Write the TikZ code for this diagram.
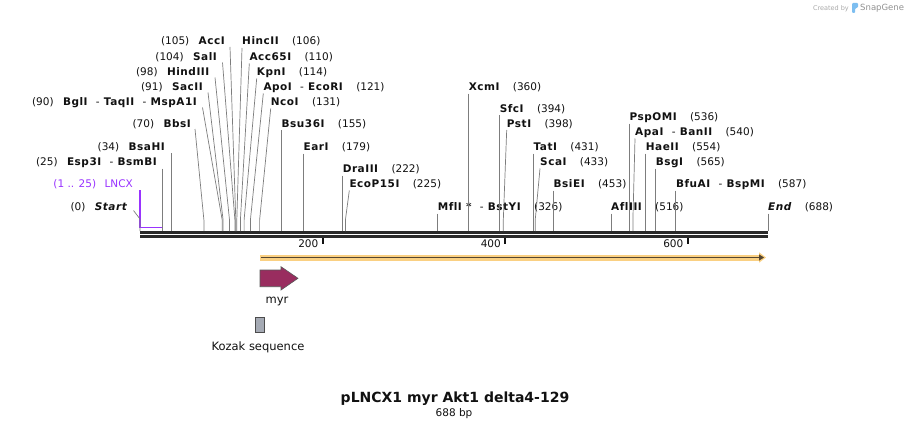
\documentclass[tikz,border=0pt]{standalone}
\usepackage{fontspec}
\setmainfont{DejaVu Sans}
\newfontfamily\enzfont[LetterSpace=5,Ligatures=NoCommon]{DejaVu Sans}
\usetikzlibrary{arrows.meta,positioning}
\definecolor{inkBlack}{RGB}{17, 17, 17}
\definecolor{leaderGray}{RGB}{125, 125, 125}
\definecolor{lncxPurple}{RGB}{153, 51, 255}
\definecolor{myrWine}{RGB}{153, 45, 95}
\definecolor{kozakGray}{RGB}{165, 170, 180}
\definecolor{bandOrange}{RGB}{250, 208, 130}
\definecolor{bandBrown}{RGB}{85, 70, 50}
\definecolor{snapGray}{RGB}{170, 170, 170}
\definecolor{snapBlue}{RGB}{125, 190, 240}
\newcommand{\cutsep}{\ \ {\mdseries-}\ }

\begin{document}
\begin{tikzpicture}[x=1pt, y=-1pt,
    enzname/.style={font=\enzfont\fontsize{10.5}{12}\selectfont\bfseries, text=inkBlack, inner sep=0pt},
    enzpos/.style={font=\fontsize{10.5}{12}\selectfont, text=inkBlack, inner sep=0pt},
    leader/.style={draw=leaderGray, line width=0.7pt},
    backbone/.style={draw=inkBlack!90, line width=3pt},
    tickmark/.style={draw=inkBlack, line width=2pt},
    featlabel/.style={font=\fontsize{11.5}{13}\selectfont, text=inkBlack, inner sep=0pt}]
\fill[white] (0,0) rectangle (909,428);
\useasboundingbox (0,0) rectangle (909,428);

% sequence backbone
\coordinate (bbStart) at (140,232.5);
\coordinate (bbEnd) at (768,232.5);
\draw[backbone] (bbStart) -- (bbEnd);
\draw[backbone] ([yshift=-4pt]bbStart) -- ([yshift=-4pt]bbEnd);

% scale ticks
\coordinate (t200) at (322.6,238);
\coordinate (t400) at (505.1,238);
\coordinate (t600) at (687.7,238);
\draw[tickmark] (t200) -- ++(0,6);
\draw[tickmark] (t400) -- ++(0,6);
\draw[tickmark] (t600) -- ++(0,6);
\node[enzpos, anchor=base east] (l200) at (318.5,247.5) {200};
\node[enzpos, anchor=base east] (l400) at (501,247.5) {400};
\node[enzpos, anchor=base east] (l600) at (683.5,247.5) {600};

% left hand sites
\node[enzname, anchor=base east] (nAccI) at (225,45) {AccI};
\node[enzpos, left=9pt of nAccI.base west, anchor=base east] (pAccI) {(105)};
\coordinate (sAccI) at (235.8,231);
\draw[leader] ([shift={(5pt,-2pt)}]nAccI.base east) -- ([yshift=11pt]sAccI) -- (sAccI);

\node[enzname, anchor=base east] (nSalI) at (217,60.5) {SalI};
\node[enzpos, left=9pt of nSalI.base west, anchor=base east] (pSalI) {(104)};
\coordinate (sSalI) at (234.9,231);
\draw[leader] ([shift={(5.5pt,-2pt)}]nSalI.base east) -- ([yshift=11pt]sSalI) -- (sSalI);

\node[enzname, anchor=base east] (nHindIII) at (209.5,75.5) {HindIII};
\node[enzpos, left=9pt of nHindIII.base west, anchor=base east] (pHindIII) {(98)};
\coordinate (sHindIII) at (229.5,231);
\draw[leader] ([shift={(5.5pt,-2pt)}]nHindIII.base east) -- ([yshift=11pt]sHindIII) -- (sHindIII);

\node[enzname, anchor=base east] (nSacII) at (203,90.5) {SacII};
\node[enzpos, left=9pt of nSacII.base west, anchor=base east] (pSacII) {(91)};
\coordinate (sSacII) at (223.1,231);
\draw[leader] ([shift={(5pt,-2pt)}]nSacII.base east) -- ([yshift=11pt]sSacII) -- (sSacII);

\node[enzname, anchor=base east] (nMspA1I) at (197,105.5) {BglI\cutsep TaqII\cutsep MspA1I};
\node[enzpos, left=9pt of nMspA1I.base west, anchor=base east] (pMspA1I) {(90)};
\coordinate (sMspA1I) at (222.2,231);
\draw[leader] ([shift={(5.5pt,-2pt)}]nMspA1I.base east) -- ([yshift=11pt]sMspA1I) -- (sMspA1I);

\node[enzname, anchor=base east] (nBbsI) at (191,127) {BbsI};
\node[enzpos, left=9pt of nBbsI.base west, anchor=base east] (pBbsI) {(70)};
\coordinate (sBbsI) at (203.9,231);
\draw[leader] ([shift={(4pt,-2pt)}]nBbsI.base east) -- ([yshift=11pt]sBbsI) -- (sBbsI);

\node[enzname, anchor=base east] (nBsaHI) at (165,150) {BsaHI};
\node[enzpos, left=9pt of nBsaHI.base west, anchor=base east] (pBsaHI) {(34)};
\coordinate (sBsaHI) at (171,231);
\draw[leader] ([shift={(6pt,-3pt)}]nBsaHI.base east) -- (sBsaHI);

\node[enzname, anchor=base east] (nBsmBI) at (157,165.5) {Esp3I\cutsep BsmBI};
\node[enzpos, left=9pt of nBsmBI.base west, anchor=base east] (pBsmBI) {(25)};
\coordinate (sBsmBI) at (162.8,231);
\draw[leader] ([shift={(5.8pt,-3pt)}]nBsmBI.base east) -- (sBsmBI);

% LNCX feature and start
\node[enzpos, text=lncxPurple, anchor=base east] (nLNCX) at (133,187.5) {LNCX};
\node[enzpos, text=lncxPurple, left=8pt of nLNCX.base west, anchor=base east] (pLNCX) {(1 .. 25)};
\coordinate (lncxTop) at (140,190);
\coordinate (lncxEnd) at (162,227.7);
\draw[lncxPurple, line width=1.4pt] (lncxTop) |- (lncxEnd);

\node[enzname, font=\enzfont\fontsize{10.5}{12}\selectfont\bfseries\itshape, anchor=base east] (nStart) at (127,210.5) {Start};
\node[enzpos, left=9pt of nStart.base west, anchor=base east] (pStart) {(0)};
\coordinate (sStart) at (140,231);
\draw[leader] ([shift={(6.5pt,0pt)}]nStart.base east) -- ([yshift=12pt]sStart) -- (sStart);

% right hand sites
\node[enzname, anchor=base west] (nHincII) at (242,45) {HincII};
\node[enzpos, right=13pt of nHincII.base east, anchor=base west] (pHincII) {(106)};
\coordinate (sHincII) at (236.8,231);
\draw[leader] ([yshift=-3pt]nHincII.base west) -- ([yshift=11pt]sHincII) -- (sHincII);

\node[enzname, anchor=base west] (nAcc65I) at (249.3,60.5) {Acc65I};
\node[enzpos, right=13pt of nAcc65I.base east, anchor=base west] (pAcc65I) {(110)};
\coordinate (sAcc65I) at (240.4,231);
\draw[leader] ([yshift=-3pt]nAcc65I.base west) -- ([yshift=11pt]sAcc65I) -- (sAcc65I);

\node[enzname, anchor=base west] (nKpnI) at (256.7,75.5) {KpnI};
\node[enzpos, right=13pt of nKpnI.base east, anchor=base west] (pKpnI) {(114)};
\coordinate (sKpnI) at (244.1,231);
\draw[leader] ([yshift=-3pt]nKpnI.base west) -- ([yshift=11pt]sKpnI) -- (sKpnI);

\node[enzname, anchor=base west] (nEcoRI) at (263.3,90.5) {ApoI\cutsep EcoRI};
\node[enzpos, right=13pt of nEcoRI.base east, anchor=base west] (pEcoRI) {(121)};
\coordinate (sEcoRI) at (250.4,231);
\draw[leader] ([yshift=-3pt]nEcoRI.base west) -- ([yshift=11pt]sEcoRI) -- (sEcoRI);

\node[enzname, anchor=base west] (nNcoI) at (270.7,105.5) {NcoI};
\node[enzpos, right=13pt of nNcoI.base east, anchor=base west] (pNcoI) {(131)};
\coordinate (sNcoI) at (259.6,231);
\draw[leader] ([yshift=-3pt]nNcoI.base west) -- ([yshift=11pt]sNcoI) -- (sNcoI);

\node[enzname, anchor=base west] (nBsu36I) at (281.5,127) {Bsu36I};
\node[enzpos, right=13pt of nBsu36I.base east, anchor=base west] (pBsu36I) {(155)};
\coordinate (sBsu36I) at (281.5,231);
\draw[leader] ([yshift=-3pt]nBsu36I.base west) -- (sBsu36I);

\node[enzname, anchor=base west] (nEarI) at (303.4,150.5) {EarI};
\node[enzpos, right=13pt of nEarI.base east, anchor=base west] (pEarI) {(179)};
\coordinate (sEarI) at (303.4,231);
\draw[leader] ([yshift=-3pt]nEarI.base west) -- (sEarI);

\node[enzname, anchor=base west] (nDraIII) at (342.6,172.5) {DraIII};
\node[enzpos, right=13pt of nDraIII.base east, anchor=base west] (pDraIII) {(222)};
\coordinate (sDraIII) at (342.6,231);
\draw[leader] ([yshift=-3pt]nDraIII.base west) -- (sDraIII);

\node[enzname, anchor=base west] (nEcoP15I) at (349.3,187.5) {EcoP15I};
\node[enzpos, right=13pt of nEcoP15I.base east, anchor=base west] (pEcoP15I) {(225)};
\coordinate (sEcoP15I) at (345.4,231);
\draw[leader] ([yshift=-3pt]nEcoP15I.base west) -- ([yshift=11pt]sEcoP15I) -- (sEcoP15I);

\node[enzname, anchor=base west] (nBstYI) at (437.6,210.5) {MflI *\cutsep BstYI};
\node[enzpos, right=13pt of nBstYI.base east, anchor=base west] (pBstYI) {(326)};
\coordinate (sBstYI) at (437.6,231);
\draw[leader] ([yshift=-3pt]nBstYI.base west) -- (sBstYI);

\node[enzname, anchor=base west] (nXcmI) at (468.6,90.5) {XcmI};
\node[enzpos, right=13pt of nXcmI.base east, anchor=base west] (pXcmI) {(360)};
\coordinate (sXcmI) at (468.6,231);
\draw[leader] ([yshift=-3pt]nXcmI.base west) -- (sXcmI);

\node[enzname, anchor=base west] (nSfcI) at (499.6,112) {SfcI};
\node[enzpos, right=13pt of nSfcI.base east, anchor=base west] (pSfcI) {(394)};
\coordinate (sSfcI) at (499.6,231);
\draw[leader] ([yshift=-3pt]nSfcI.base west) -- (sSfcI);

\node[enzname, anchor=base west] (nPstI) at (506.7,127) {PstI};
\node[enzpos, right=13pt of nPstI.base east, anchor=base west] (pPstI) {(398)};
\coordinate (sPstI) at (503.3,231);
\draw[leader] ([yshift=-3pt]nPstI.base west) -- ([yshift=11pt]sPstI) -- (sPstI);

\node[enzname, anchor=base west] (nTatI) at (533.4,150.5) {TatI};
\node[enzpos, right=13pt of nTatI.base east, anchor=base west] (pTatI) {(431)};
\coordinate (sTatI) at (533.4,231);
\draw[leader] ([yshift=-3pt]nTatI.base west) -- (sTatI);

\node[enzname, anchor=base west] (nScaI) at (540,165.5) {ScaI};
\node[enzpos, right=13pt of nScaI.base east, anchor=base west] (pScaI) {(433)};
\coordinate (sScaI) at (535.2,231);
\draw[leader] ([yshift=-3pt]nScaI.base west) -- ([yshift=11pt]sScaI) -- (sScaI);

\node[enzname, anchor=base west] (nBsiEI) at (553.5,187.5) {BsiEI};
\node[enzpos, right=13pt of nBsiEI.base east, anchor=base west] (pBsiEI) {(453)};
\coordinate (sBsiEI) at (553.5,231);
\draw[leader] ([yshift=-3pt]nBsiEI.base west) -- (sBsiEI);

\node[enzname, anchor=base west] (nAflIII) at (611,210.5) {AflIII};
\node[enzpos, right=13pt of nAflIII.base east, anchor=base west] (pAflIII) {(516)};
\coordinate (sAflIII) at (611,231);
\draw[leader] ([yshift=-3pt]nAflIII.base west) -- (sAflIII);

\node[enzname, anchor=base west] (nPspOMI) at (629.3,120.5) {PspOMI};
\node[enzpos, right=13pt of nPspOMI.base east, anchor=base west] (pPspOMI) {(536)};
\coordinate (sPspOMI) at (629.3,231);
\draw[leader] ([yshift=-3pt]nPspOMI.base west) -- (sPspOMI);

\node[enzname, anchor=base west] (nBanII) at (635,135.5) {ApaI\cutsep BanII};
\node[enzpos, right=13pt of nBanII.base east, anchor=base west] (pBanII) {(540)};
\coordinate (sBanII) at (632.9,231);
\draw[leader] ([yshift=-3pt]nBanII.base west) -- ([yshift=11pt]sBanII) -- (sBanII);

\node[enzname, anchor=base west] (nHaeII) at (645.7,150.5) {HaeII};
\node[enzpos, right=13pt of nHaeII.base east, anchor=base west] (pHaeII) {(554)};
\coordinate (sHaeII) at (645.7,231);
\draw[leader] ([yshift=-3pt]nHaeII.base west) -- (sHaeII);

\node[enzname, anchor=base west] (nBsgI) at (655.7,165.5) {BsgI};
\node[enzpos, right=13pt of nBsgI.base east, anchor=base west] (pBsgI) {(565)};
\coordinate (sBsgI) at (655.7,231);
\draw[leader] ([yshift=-3pt]nBsgI.base west) -- (sBsgI);

\node[enzname, anchor=base west] (nBspMI) at (675.8,187.5) {BfuAI\cutsep BspMI};
\node[enzpos, right=13pt of nBspMI.base east, anchor=base west] (pBspMI) {(587)};
\coordinate (sBspMI) at (675.8,231);
\draw[leader] ([yshift=-3pt]nBspMI.base west) -- (sBspMI);

\node[enzname, font=\enzfont\fontsize{10.5}{12}\selectfont\bfseries\itshape, anchor=base west] (nEnd) at (768,210.5) {End};
\node[enzpos, right=13pt of nEnd.base east, anchor=base west] (pEnd) {(688)};
\coordinate (sEnd) at (768,231);
\draw[leader] ([yshift=-3pt]nEnd.base west) -- (sEnd);

% features
\coordinate (bandStart) at (260,257.5);
\coordinate (bandEnd) at (766,257.5);
\draw[bandOrange, line width=6pt, -{Triangle[length=7pt,width=10pt]}] (bandStart) -- (bandEnd);
\draw[bandBrown, line width=1.5pt, -{Triangle[length=5pt,width=6pt]}] ([xshift=1pt]bandStart) -- ([xshift=-2pt]bandEnd);

\fill[myrWine, draw=inkBlack!70, line width=0.6pt] (260,270) -- (281,270) -- (281,266.7) -- (298,278.3) -- (281,290) -- (281,286.7) -- (260,286.7) -- cycle;
\node[featlabel, anchor=base] (lMyr) at (277,303.5) {myr};

\draw[fill=kozakGray, draw=inkBlack!75, line width=0.7pt] (255.5,317.5) rectangle (264.5,332.5);
\node[featlabel, anchor=base] (lKozak) at (258,350.5) {Kozak sequence};

% title
\node[font=\fontsize{14}{16}\selectfont\bfseries, text=inkBlack, inner sep=0pt, anchor=base] (title) at (455,402.5) {pLNCX1 myr Akt1 delta4-129};
\node[font=\fontsize{10.5}{12}\selectfont, text=inkBlack, inner sep=0pt, anchor=base] (size) at (454,416) {688 bp};

% credit
\node[font=\fontsize{6.5}{8}\selectfont, text=snapGray, inner sep=0pt, anchor=base east] (made) at (849,11) {Created by};
\fill[snapBlue, rounded corners=1pt] (852,3) -- (858,3) -- (858,7.5) -- (855,8.5) -- (855,13) -- (852,13) -- cycle;
\node[font=\fontsize{8.5}{10}\selectfont, text=snapGray!85!black, inner sep=0pt, anchor=base west] (brand) at (860,11) {SnapGene};
\end{tikzpicture}
\end{document}
